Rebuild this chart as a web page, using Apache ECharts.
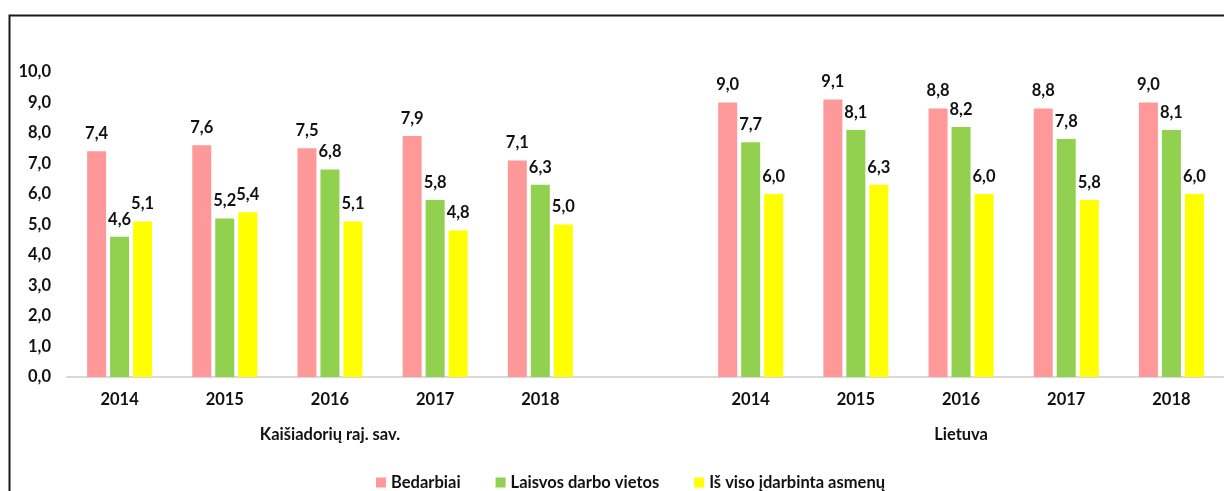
<!DOCTYPE html>
<html>
<head>
<meta charset="utf-8">
<script src="https://cdn.jsdelivr.net/npm/echarts@6/dist/echarts.min.js"></script>
<style>
  html, body { margin: 0; padding: 0; background: #fff; }
  #chart { width: 1224px; height: 491px; }
</style>
</head>
<body>
<div id="chart"></div>
<script>
// years repeated for both groups, empty slot between them
const categories = ['2014', '2015', '2016', '2017', '2018', '', '2014', '2015', '2016', '2017', '2018'];
const groupLabels = ['', '', 'Kaišiadorių raj. sav.', '', '', '', '', '', 'Lietuva', '', ''];
const seriesNames = ['Bedarbiai', 'Laisvos darbo vietos', 'Iš viso įdarbinta asmenų'];
const bedarbiai = [7.4, 7.6, 7.5, 7.9, 7.1, null, 9.0, 9.1, 8.8, 8.8, 9.0];
const laisvos = [4.6, 5.2, 6.8, 5.8, 6.3, null, 7.7, 8.1, 8.2, 7.8, 8.1];
const idarbinta = [5.1, 5.4, 5.1, 4.8, 5.0, null, 6.0, 6.3, 6.0, 5.8, 6.0];
const colors = ['#ff9999', '#92d050', '#ffff00'];

const font = 'Lato, "Open Sans", sans-serif';
const txt = '#111';
const fs = 16.5;

function fmt(v) {
    return Number(v).toFixed(1).replace('.', ',');
}

function barSeries(name, data) {
    return {
        name: name,
        type: 'bar',
        data: data,
        barWidth: 19,
        barGap: '21%',
        label: {
            show: true,
            position: 'top',
            distance: 9,
            fontFamily: font,
            fontWeight: 'bold',
            fontSize: fs,
            color: txt,
            formatter: function (p) { return fmt(p.value); }
        }
    };
}

const chart = echarts.init(document.getElementById('chart'));
chart.setOption({
    animation: false,
    color: colors,
    graphic: [{
        type: 'rect',
        left: 7,
        top: 13,
        shape: { width: 1400, height: 700 },
        style: { fill: 'none', stroke: '#1a1a1a', lineWidth: 2 },
        z: 100
    }],
    legend: {
        top: 469,
        left: 371,
        itemWidth: 10,
        itemHeight: 10,
        itemGap: 35,
        itemTextGap: 5,
        icon: 'rect',
        textStyle: { fontFamily: font, fontWeight: 'bold', fontSize: fs, color: txt },
        data: seriesNames
    },
    grid: {
        left: 67,
        top: 72,
        width: 1163,
        height: 305
    },
    xAxis: [{
        type: 'category',
        data: categories,
        axisLine: { lineStyle: { color: '#d9d9d9', width: 2 } },
        axisTick: { show: false },
        axisLabel: {
            interval: 0,
            margin: 14,
            fontFamily: font,
            fontWeight: 'bold',
            fontSize: fs,
            color: txt
        }
    }, {
        type: 'category',
        position: 'bottom',
        offset: 35,
        data: groupLabels,
        axisLine: { show: false },
        axisTick: { show: false },
        axisLabel: {
            interval: 0,
            margin: 14,
            fontFamily: font,
            fontWeight: 'bold',
            fontSize: fs,
            color: txt
        }
    }],
    yAxis: {
        type: 'value',
        min: 0,
        max: 10,
        interval: 1,
        splitLine: { show: false },
        axisLine: { show: false },
        axisTick: { show: false },
        axisLabel: {
            margin: 16,
            fontFamily: font,
            fontWeight: 'bold',
            fontSize: fs,
            color: txt,
            formatter: fmt
        }
    },
    series: [
        barSeries(seriesNames[0], bedarbiai),
        barSeries(seriesNames[1], laisvos),
        barSeries(seriesNames[2], idarbinta)
    ]
});
</script>
</body>
</html>
